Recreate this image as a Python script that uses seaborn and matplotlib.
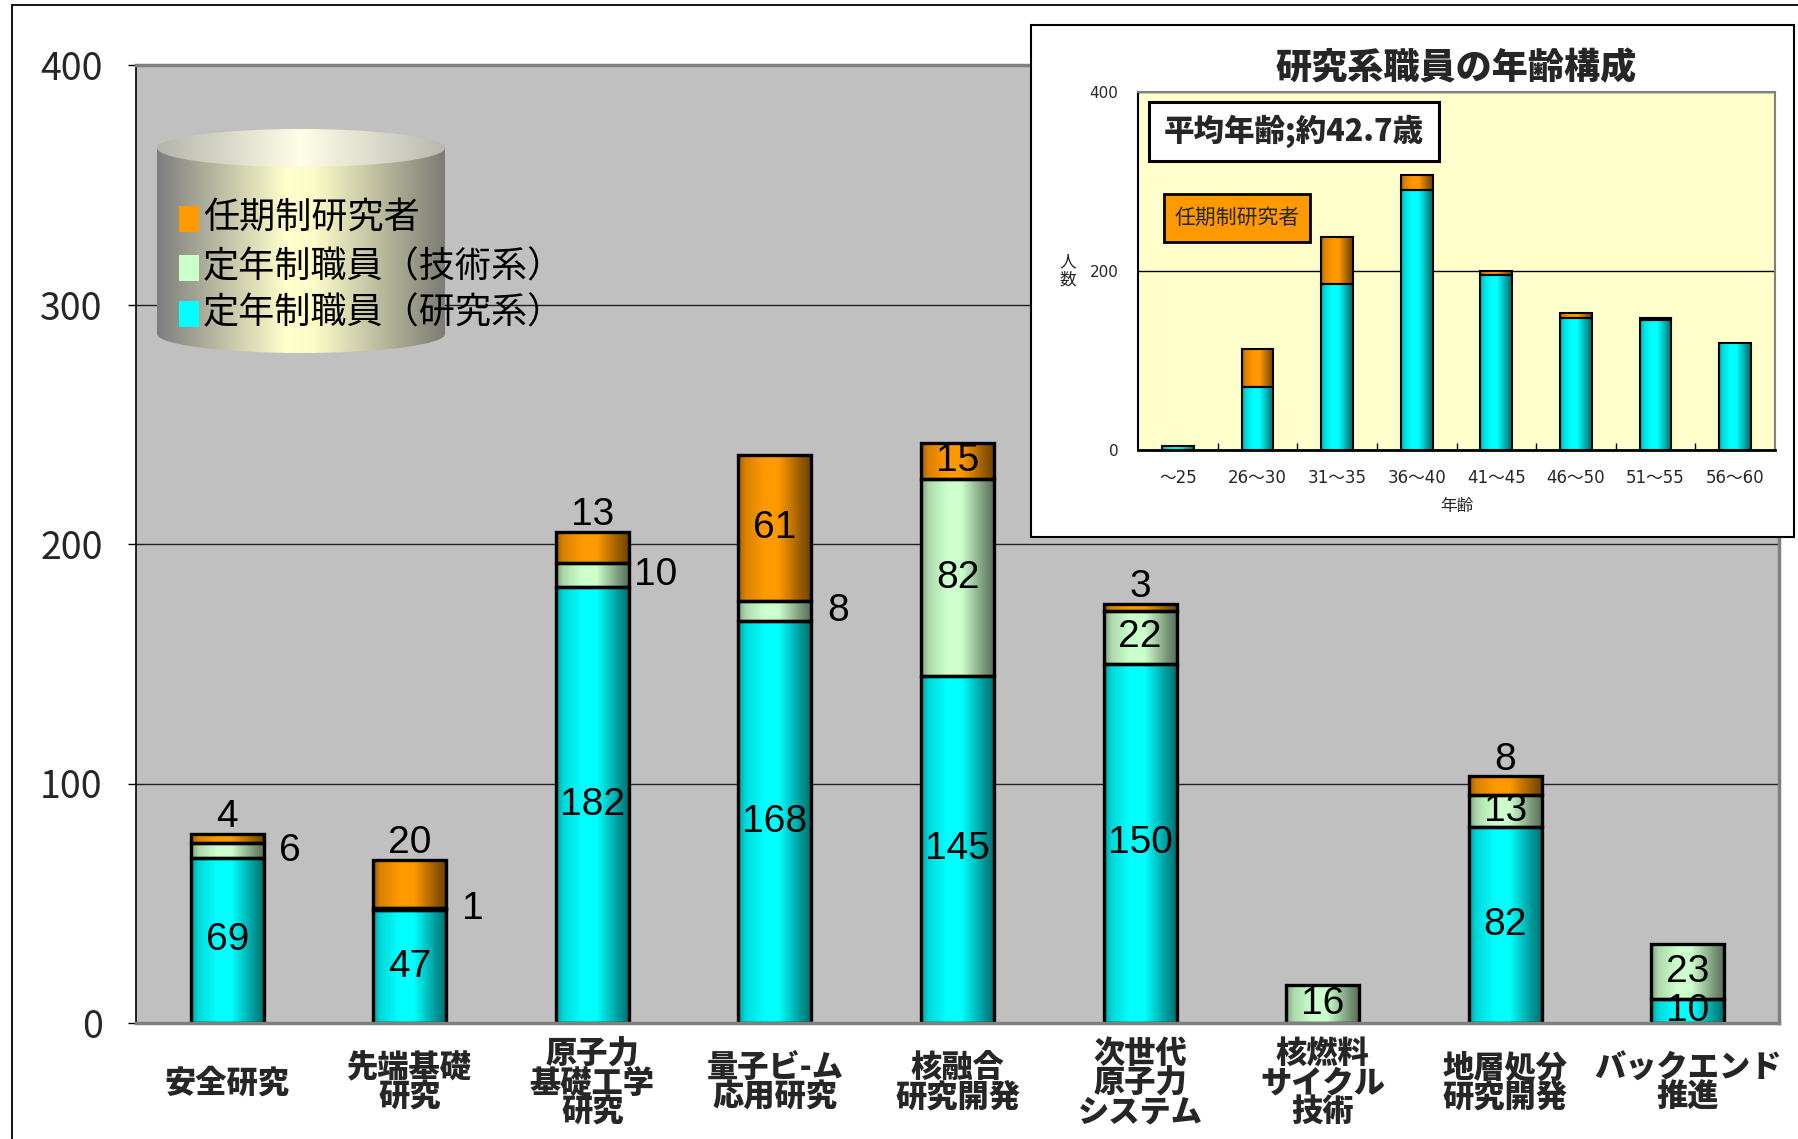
import numpy as np
import pandas as pd
import matplotlib
matplotlib.use("Agg")
import matplotlib.pyplot as plt
import seaborn as sns
from matplotlib.patches import Rectangle, Ellipse
from matplotlib.colors import LinearSegmentedColormap, to_rgba

# ---------------- data ----------------
categories = ['安全研究', '先端基礎\n研究', '原子力\n基礎工学\n研究', '量子ビ-ム\n応用研究',
              '核融合\n研究開発', '次世代\n原子力\nシステム', '核燃料\nサイクル\n技術',
              '地層処分\n研究開発', 'バックエンド\n推進']
research_staff = [69, 47, 182, 168, 145, 150, 0, 82, 10]
technical_staff = [6, 1, 10, 8, 82, 22, 16, 13, 23]
fixed_term = [4, 20, 13, 61, 15, 3, 0, 8, 0]
y_ticks = [0, 100, 200, 300, 400]

series_names = ['任期制研究者', '定年制職員（技術系）', '定年制職員（研究系）']

age_groups = ['～25', '26～30', '31～35', '36～40', '41～45', '46～50', '51～55', '56～60']
age_research = [4, 70, 185, 291, 196, 148, 145, 120]
age_fixed = [0, 43, 53, 16, 4, 5, 2, 0]
inset_ticks = [0, 200, 400]
inset_title = '研究系職員の年齢構成'
avg_text = '平均年齢;約42.7歳'

# label placement (style only)
research_place = ['in'] * 9
technical_place = ['right', 'right', 'right', 'right', 'in', 'in', 'in', 'in', 'in']
fixed_place = ['above', 'above', 'above', 'in', 'in', 'above', 'in', 'above', 'in']

CYAN, GREEN, ORANGE = '#00FFFF', '#CCFFCC', '#FF9900'

sns.set_theme(style='white')
plt.rcParams['font.family'] = ['Noto Sans CJK JP', 'DejaVu Sans']
NUM_FONT = ['Liberation Sans Narrow', 'Liberation Sans', 'DejaVu Sans']

W, H = 1798, 1139
fig = plt.figure(figsize=(W / 100, H / 100), dpi=100)
fig.patch.set_facecolor('white')


def shade_bars(ax, patches):
    t = np.linspace(0, 1, 200)
    factor = np.interp(t, [0, 0.1, 0.35, 0.55, 0.85, 1.0],
                       [0.62, 0.85, 1.0, 1.0, 0.6, 0.42])
    for p in patches:
        h = p.get_height()
        if h <= 0:
            p.set_visible(False)
            continue
        rgb = np.array(to_rgba(p.get_facecolor())[:3])
        img = np.clip(rgb[None, None, :] * factor[None, :, None], 0, 1)
        x, y, w = p.get_x(), p.get_y(), p.get_width()
        im = ax.imshow(img, extent=[x, x + w, y, y + h], aspect='auto',
                       interpolation='bilinear', origin='lower',
                       zorder=p.get_zorder() - 0.05)
        im.set_clip_path(p)
        p.set_facecolor('none')


# ---------------- main axes ----------------
ax = fig.add_axes([136 / W, 1 - 1023 / H, (1779 - 136) / W, (1023 - 65) / H], zorder=0)
df = pd.DataFrame({'cat': categories, 'res': research_staff,
                   'tech': technical_staff, 'fix': fixed_term})
res = np.array(research_staff)
tech = np.array(technical_staff)
fix = np.array(fixed_term)
common = dict(x='cat', order=categories, width=0.4, saturation=1, errorbar=None,
              edgecolor='black', linewidth=2.4, ax=ax)
sns.barplot(data=df, y='res', color=CYAN, **common)
sns.barplot(data=df, y='tech', color=GREEN, bottom=res, **common)
sns.barplot(data=df, y='fix', color=ORANGE, bottom=res + tech, **common)
shade_bars(ax, list(ax.patches))

ax.set_xlim(-0.5, len(categories) - 0.5)
ax.set_ylim(0, 400)
ax.set_facecolor('#C0C0C0')
ax.set_axisbelow(True)
ax.yaxis.grid(True, color='#202020', lw=1.0)
ax.xaxis.grid(False)
for s in ['top', 'right', 'bottom']:
    ax.spines[s].set_color('#808080')
    ax.spines[s].set_linewidth(2.5)
ax.spines['left'].set_color('black')
ax.spines['left'].set_linewidth(1.2)
ax.set_xlabel('')
ax.set_ylabel('')
ax.set_yticks(y_ticks)
ax.set_yticklabels([str(v) for v in y_ticks], fontsize=27)
ax.tick_params(axis='y', length=6, width=1, color='black', direction='out', pad=18, left=True)
ax.set_xticks(range(len(categories)))
ax.set_xticklabels(categories, fontsize=22.5, fontweight='heavy')
ax.tick_params(axis='x', length=0, pad=43)
for lab in ax.get_xticklabels():
    lab.set_va('center')
    lab.set_linespacing(0.92)


def put_label(ax, x, y0, h, val, place, fs):
    if val == 0:
        return
    kw = dict(ha='center', va='center', fontsize=fs, family=NUM_FONT, color='black', zorder=5)
    if place == 'in':
        ax.text(x, y0 + h / 2, str(val), **kw)
    elif place == 'right':
        ax.text(x + 0.345, y0 + h / 2, str(val), **kw)
    elif place == 'above':
        ax.annotate(str(val), (x, y0 + h), xytext=(0, 12), textcoords='offset points', **kw)


for i in range(len(categories)):
    put_label(ax, i, 0, res[i], res[i], research_place[i], 28)
    put_label(ax, i, res[i], tech[i], tech[i], technical_place[i], 28)
    put_label(ax, i, res[i] + tech[i], fix[i], fix[i], fixed_place[i], 28)

# ---------------- overlay (legend cylinder, frame, inset panel) ----------------
ov = fig.add_axes([0, 0, 1, 1], zorder=1)
ov.set_xlim(0, W)
ov.set_ylim(H, 0)
ov.axis('off')
ov.patch.set_alpha(0)

ov.plot([12, 12], [4.7, H + 5], color='black', lw=1.3, clip_on=False)
ov.plot([12, W + 5], [4.7, 4.7], color='black', lw=1.3, clip_on=False)

body_cmap = LinearSegmentedColormap.from_list(
    'body', [(0, '#7E7E7E'), (0.45, '#FFFFCC'), (0.55, '#FBFBC8'), (1.0, '#7C7C74')])
top_cmap = LinearSegmentedColormap.from_list(
    'top', [(0, '#B4B4AC'), (0.5, '#FFFFE8'), (1.0, '#B8B8B0')])
grad = np.linspace(0, 1, 256)[None, :]
cx0, cx1 = 157, 445
ctop, cbot, eh = 148, 334, 38
body_rect = Rectangle((cx0, ctop), cx1 - cx0, cbot - ctop, fc='none', ec='none')
body_ell = Ellipse(((cx0 + cx1) / 2, cbot), cx1 - cx0, eh, fc='none', ec='none')
top_ell = Ellipse(((cx0 + cx1) / 2, ctop), cx1 - cx0, eh, fc='none', ec='none')
for p in (body_rect, body_ell, top_ell):
    ov.add_patch(p)
for clip, cm in ((body_rect, body_cmap), (body_ell, body_cmap)):
    im = ov.imshow(grad, cmap=cm, extent=[cx0, cx1, cbot + eh, ctop], aspect='auto',
                   interpolation='bilinear', zorder=2)
    im.set_clip_path(clip)
im = ov.imshow(grad, cmap=top_cmap, extent=[cx0, cx1, ctop + eh, ctop - eh], aspect='auto',
               interpolation='bilinear', zorder=3)
im.set_clip_path(top_ell)

legend_colors = [ORANGE, GREEN, CYAN]
legend_y = [218, 267, 313]
for name, col, yy in zip(series_names, legend_colors, legend_y):
    ov.add_patch(Rectangle((179, yy - 12), 20, 26, fc=col, ec='none', zorder=4))
    ov.text(203, yy, name, fontsize=26, ha='left', va='center', zorder=5, color='black')

ov.add_patch(Rectangle((1031, 25), 763, 512, fc='white', ec='black', lw=1.5, zorder=6))
ov.set_xlim(0, W)
ov.set_ylim(H, 0)

# ---------------- inset ----------------
IX0, IX1, IY0, IY1 = 1138, 1775, 92, 450
ax2 = fig.add_axes([IX0 / W, 1 - IY1 / H, (IX1 - IX0) / W, (IY1 - IY0) / H], zorder=2)
df2 = pd.DataFrame({'age': age_groups, 'res': age_research, 'fix': age_fixed})
ares = np.array(age_research)
common2 = dict(x='age', order=age_groups, width=0.4, saturation=1, errorbar=None,
               edgecolor='black', linewidth=1.5, ax=ax2)
sns.barplot(data=df2, y='res', color=CYAN, **common2)
sns.barplot(data=df2, y='fix', color=ORANGE, bottom=ares, **common2)
shade_bars(ax2, list(ax2.patches))
ax2.set_xlim(-0.5, len(age_groups) - 0.5)
ax2.set_ylim(0, 400)
ax2.set_facecolor('#FFFFCC')
ax2.set_axisbelow(True)
ax2.yaxis.grid(True, color='black', lw=1.0)
ax2.xaxis.grid(False)
ax2.spines['left'].set_color('black')
ax2.spines['left'].set_linewidth(1.5)
ax2.spines['bottom'].set_color('black')
ax2.spines['bottom'].set_linewidth(2.0)
for s in ['top', 'right']:
    ax2.spines[s].set_color('#808080')
    ax2.spines[s].set_linewidth(1.5)
ax2.set_yticks(inset_ticks)
ax2.set_yticklabels([str(v) for v in inset_ticks], fontsize=11,
                    family=['DejaVu Sans', 'Noto Sans CJK JP'])
ax2.tick_params(axis='y', length=0, pad=14)
ax2.set_xticks(range(len(age_groups)))
ax2.set_xticklabels(age_groups, fontsize=12, family=['DejaVu Sans', 'Noto Sans CJK JP'])
ax2.set_xticks(np.arange(0.5, len(age_groups) - 1, 1), minor=True)
ax2.tick_params(axis='x', which='major', length=0, pad=20)
ax2.tick_params(axis='x', which='minor', length=5, width=1, direction='in', color='black', bottom=True)
for lab in ax2.get_xticklabels():
    lab.set_va('center')
ax2.set_xlabel('年齢', fontsize=12, va='center')
ax2.xaxis.set_label_coords(0.5, -57 / (IY1 - IY0))
ax2.set_ylabel('人\n数', fontsize=12, rotation=0, ha='center', va='center', linespacing=1.1)
ax2.yaxis.set_label_coords((1068 - IX0) / (IX1 - IX0), 0.5)
ax2.text(0.5, 1 + 24 / (IY1 - IY0), inset_title, transform=ax2.transAxes, ha='center',
         va='center', fontsize=26, fontweight='heavy', clip_on=False)


def px2ax(px, py):
    return (px - IX0) / (IX1 - IX0), (IY1 - py) / (IY1 - IY0)


bx0, by0 = px2ax(1149, 161)
bx1, by1 = px2ax(1439, 102)
ax2.add_patch(Rectangle((bx0, by0), bx1 - bx0, by1 - by0, transform=ax2.transAxes,
                        fc='white', ec='black', lw=2.2, zorder=6, clip_on=False))
ax2.text((bx0 + bx1) / 2, (by0 + by1) / 2, avg_text, transform=ax2.transAxes, ha='center',
         va='center', fontsize=22, fontweight='heavy', zorder=7)
ox0, oy0 = px2ax(1164, 242)
ox1, oy1 = px2ax(1310, 194)
ax2.add_patch(Rectangle((ox0, oy0), ox1 - ox0, oy1 - oy0, transform=ax2.transAxes,
                        fc=ORANGE, ec='black', lw=2.0, zorder=6, clip_on=False))
ax2.text((ox0 + ox1) / 2, (oy0 + oy1) / 2, series_names[0], transform=ax2.transAxes,
         ha='center', va='center', fontsize=15, zorder=7)

fig.savefig('out.png', dpi=100)
